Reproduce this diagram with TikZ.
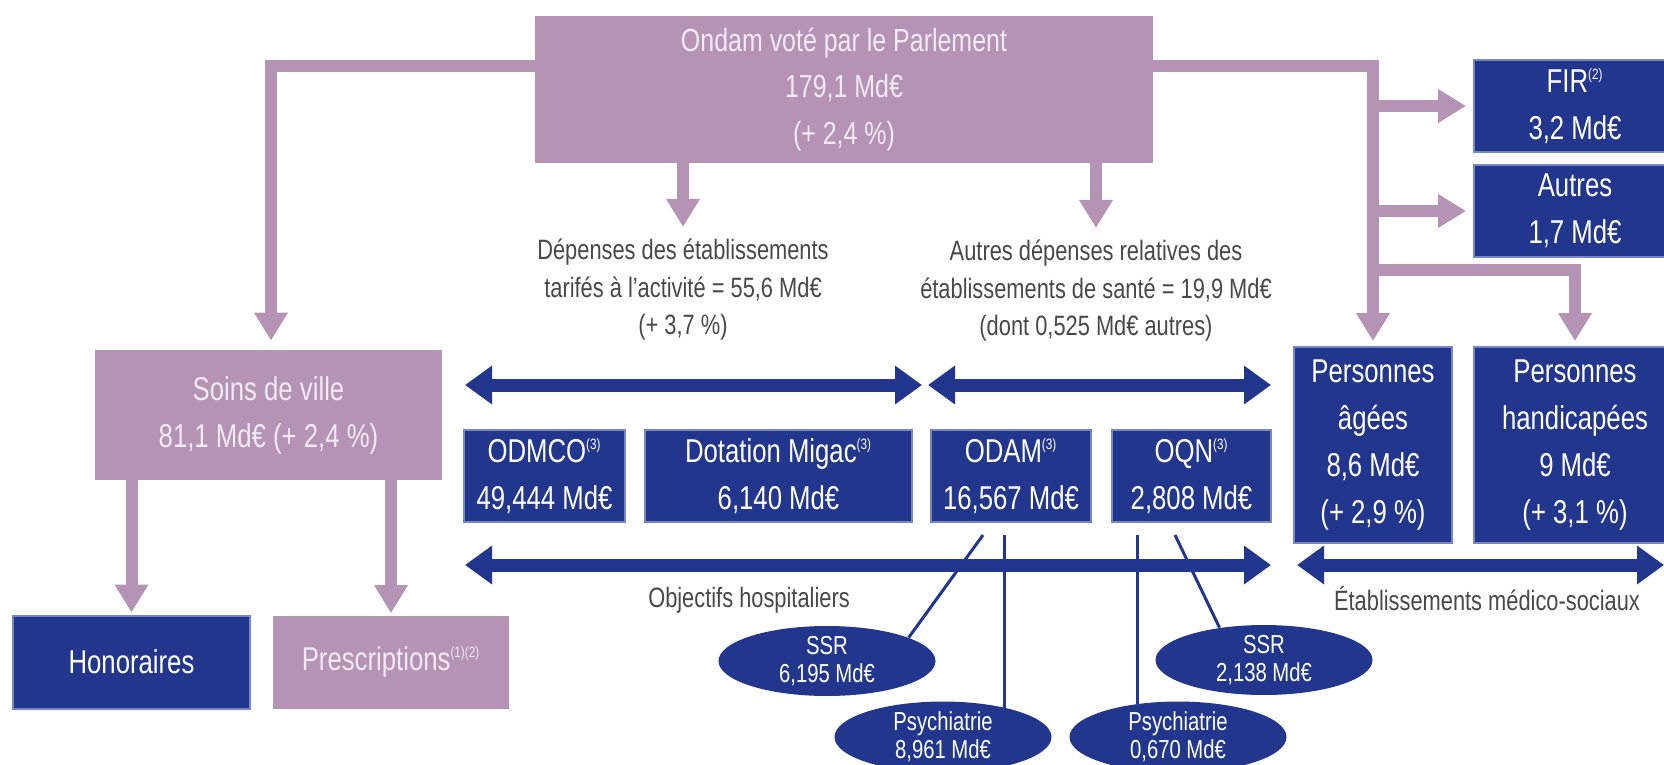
\documentclass[tikz,border=0pt]{standalone}
\usepackage{fontspec}
\setmainfont{Liberation Sans}[FakeStretch=0.78]
\usetikzlibrary{positioning, arrows.meta, shapes.geometric, calc}
\definecolor{mauve}{RGB}{180,147,180}
\definecolor{navy}{RGB}{33,54,140}
\definecolor{navyedge}{RGB}{120,134,194}
\definecolor{labelgray}{RGB}{72,72,72}
\definecolor{boxtext}{RGB}{242,234,244}
\newcommand{\refnote}[1]{\textsuperscript{\fontsize{7.5pt}{7.5pt}\selectfont #1}}
\tikzset{
  box font/.style={font=\fontsize{16.5pt}{23.5pt}\selectfont},
  mauve node/.style={rectangle, fill=mauve, text=boxtext, align=center, inner sep=0pt, box font},
  blue node/.style={rectangle, fill=navy, draw=navyedge, line width=1pt, text=white, align=center, inner sep=0pt, box font},
  oval node/.style={ellipse, fill=navy, text=white, align=center, inner sep=0pt, minimum width=108.5pt, minimum height=34pt, font=\fontsize{13pt}{14pt}\selectfont},
  label node/.style={text=labelgray, align=center, inner sep=0pt, font=\fontsize{14pt}{18.75pt}\selectfont},
  mauve arrow/.style={draw=mauve, line width=6pt, -{Triangle[length=14pt,width=16pt]}},
  blue arrow/.style={draw=navy, line width=6.5pt, {Triangle[length=13.5pt,width=18.5pt]}-{Triangle[length=13.5pt,width=18.5pt]}},
  link line/.style={draw=navy, line width=1.5pt},
}

\begin{document}
\begin{tikzpicture}[x=0.5pt, y=-0.5pt]
				\useasboundingbox (0,0) rectangle (1664,765);
				% Boxes
				\node[mauve node, minimum width=309pt, minimum height=73.5pt, font=\fontsize{16pt}{23.25pt}\selectfont] (ondam) at (844,89.5) {Ondam voté par le Parlement\\179,1 Md€\\(+ 2,4 \%)};
				\node[mauve node, minimum width=173.5pt, minimum height=65pt] (soins) at (268.5,415) {Soins de ville\\81,1 Md€ (+ 2,4 \%)};
				\node[blue node, minimum width=118.5pt, minimum height=46.5pt] (honoraires) at (131.5,662) {Honoraires};
				\node[mauve node, minimum width=118pt, minimum height=46.5pt] (prescriptions) at (391,662) {Prescriptions\refnote{(1)(2)}};
				\node[blue node, minimum width=80.5pt, minimum height=46pt] (odmco) at (544.5,476) {ODMCO\refnote{(3)}\\49,444 Md€};
				\node[blue node, minimum width=133.5pt, minimum height=46pt] (migac) at (778.5,476) {Dotation Migac\refnote{(3)}\\6,140 Md€};
				\node[blue node, minimum width=80pt, minimum height=46pt] (odam) at (1011,476) {ODAM\refnote{(3)}\\16,567 Md€};
				\node[blue node, minimum width=79.5pt, minimum height=46pt] (oqn) at (1191.5,476) {OQN\refnote{(3)}\\2,808 Md€};
				\node[blue node, minimum width=79pt, minimum height=98pt] (agees) at (1373,445) {Personnes\\âgées\\8,6 Md€\\(+ 2,9 \%)};
				\node[blue node, minimum width=101pt, minimum height=98pt] (handicap) at (1575,445) {Personnes\\handicapées\\9 Md€\\(+ 3,1 \%)};
				\node[blue node, minimum width=101pt, minimum height=46pt] (fir) at (1575,106) {FIR\refnote{(2)}\\3,2 Md€};
				\node[blue node, minimum width=101pt, minimum height=46pt] (autres) at (1575,211) {Autres\\1,7 Md€};
				% Ovals
				\node[oval node] (ssrodam) at (827,661) {SSR\\6,195 Md€};
				\node[oval node] (psyodam) at (943,737) {Psychiatrie\\8,961 Md€};
				\node[oval node] (ssroqn) at (1264,660) {SSR\\2,138 Md€};
				\node[oval node] (psyoqn) at (1178,737) {Psychiatrie\\0,670 Md€};
				% Labels
				\node[label node] (tarifes) at (683,290) {Dépenses des établissements\\tarifés à l'activité = 55,6 Md€\\(+ 3,7 \%)};
				\node[label node] (autresdep) at (1096,291) {Autres dépenses relatives des\\établissements de santé = 19,9 Md€\\(dont 0,525 Md€ autres)};
				\node[label node] (hospit) at (749,600) {Objectifs hospitaliers};
				\node[label node] (medsoc) at (1487,598) {Établissements médico-sociaux};
				% Junctions
				\coordinate (jl) at (271,66);
				\coordinate (jr) at (1372,66);
				\coordinate (jh) at (1372,270);
				% Mauve paths
				\draw[mauve arrow, shorten >=4.5pt] (ondam.west |- jl) -| (soins.north -| jl);
				\draw[mauve arrow, shorten >=2.5pt] (ondam.east |- jr) -| (agees.north);
				\draw[mauve arrow, shorten >=3.5pt] (jr |- fir.west) -- (fir.west);
				\draw[mauve arrow, shorten >=3.5pt] (jr |- autres.west) -- (autres.west);
				\draw[mauve arrow, shorten >=2.5pt] (jh) -| (handicap.north);
				\draw[mauve arrow, shorten >=6pt] (ondam.south -| tarifes.north) -- (tarifes.north);
				\draw[mauve arrow, shorten >=6pt] (ondam.south -| autresdep.north) -- (autresdep.north);
				\draw[mauve arrow, shorten >=1pt] (soins.south -| honoraires.north) -- (honoraires.north);
				\draw[mauve arrow, shorten >=1pt] (soins.south -| prescriptions.north) -- (prescriptions.north);
				% Blue spans
				\coordinate (ta) at (465,385);
				\coordinate (tb) at (922,385);
				\coordinate (tc) at (928,385);
				\coordinate (td) at (1271,385);
				\coordinate (ba) at (465,565);
				\coordinate (bb) at (1271,565);
				\coordinate (bc) at (1297,565);
				\coordinate (bd) at (1664,565);
				\draw[blue arrow] (ta) -- (tb);
				\draw[blue arrow] (tc) -- (td);
				\draw[blue arrow] (ba) -- (bb);
				\draw[blue arrow] (bc) -- (bd);
				% Links to ovals
				\coordinate (la) at (983,535);
				\coordinate (lb) at (1004,535);
				\coordinate (lc) at (1137,535);
				\coordinate (ld) at (1175,535);
				\draw[link line] (la) -- (ssrodam.16);
				\draw[link line] (lb) -- (lb |- psyodam.24.7);
				\draw[link line] (lc) -- (lc |- psyoqn.142.5);
				\draw[link line] (ld) -- (ssroqn.144.6);
			\end{tikzpicture}
\end{document}
